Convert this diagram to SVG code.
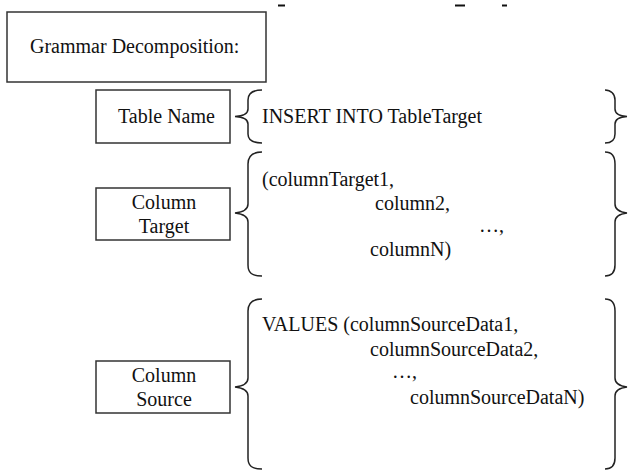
<svg xmlns="http://www.w3.org/2000/svg" width="628" height="471" viewBox="0 0 628 471">
<style>
.box{fill:#fff;stroke:#333;stroke-width:1.5}
.t{font-family:"Liberation Serif","Times New Roman",serif;font-size:20px;fill:#111}
.c{text-anchor:middle}
.br{fill:none;stroke:#222;stroke-width:1.5}
.frag{stroke:#111;stroke-width:2}
</style>
<rect width="628" height="471" fill="#fff"/>
<g id="fragments">
<line class="frag" x1="278" y1="5.5" x2="285" y2="5.5"/>
<line class="frag" x1="455" y1="5.5" x2="465" y2="5.5"/>
<line class="frag" x1="502" y1="5.5" x2="507" y2="5.5"/>
</g>
<g id="title">
<rect class="box" x="7" y="12" width="259" height="70"/>
<text class="t" x="30" y="53">Grammar Decomposition:</text>
</g>
<g id="table-name">
<rect class="box" x="96" y="90" width="134" height="53"/>
<text class="t" x="118" y="123">Table Name</text>
</g>
<g id="column-target">
<rect class="box" x="96" y="188" width="134" height="52"/>
<text class="t c" x="164" y="209">Column</text>
<text class="t c" x="164" y="233">Target</text>
</g>
<g id="column-source">
<rect class="box" x="96" y="361" width="134" height="52"/>
<text class="t c" x="164" y="382">Column</text>
<text class="t c" x="164" y="406">Source</text>
</g>
<g id="connectors">
<path class="br" d="M262,90 C252,90 248,94 248,100 L248,109 C248,114 244,116 235,116.5 C244,117 248,119 248,124 L248,134 C248,140 252,143 262,143"/>
<path class="br" d="M605,90 C611,90 615,94 615,100 L615,109 C615,114 619,116 627,116.5 C619,117 615,119 615,124 L615,134 C615,140 611,143 605,143"/>
<path class="br" d="M262,152 C252,152 248,156 248,164 L248,204 C248,209 244,212 235,213 C244,214 248,217 248,222 L248,265 C248,273 252,276 262,276"/>
<path class="br" d="M605,152 C611,152 615,156 615,164 L615,204 C615,209 619,212 627,213 C619,214 615,217 615,222 L615,265 C615,273 611,276 605,276"/>
<path class="br" d="M262,299 C252,299 248,303 248,311 L248,378 C248,383 244,386 235,387 C244,388 248,391 248,396 L248,458 C248,466 252,469 262,469"/>
<path class="br" d="M605,299 C611,299 615,303 615,311 L615,378 C615,383 619,386 627,387 C619,388 615,391 615,396 L615,458 C615,466 611,469 605,469"/>
</g>
<g id="insert-text">
<text class="t" x="262" y="123">INSERT INTO TableTarget</text>
</g>
<g id="target-text">
<text class="t" x="262" y="186">(columnTarget1,</text>
<text class="t" x="375" y="210">column2,</text>
<text class="t" x="479" y="232">…,</text>
<text class="t" x="370" y="256">columnN)</text>
</g>
<g id="source-text">
<text class="t" x="262" y="331">VALUES (columnSourceData1,</text>
<text class="t" x="370" y="356">columnSourceData2,</text>
<text class="t" x="392" y="378">…,</text>
<text class="t" x="410" y="404">columnSourceDataN)</text>
</g>
</svg>
